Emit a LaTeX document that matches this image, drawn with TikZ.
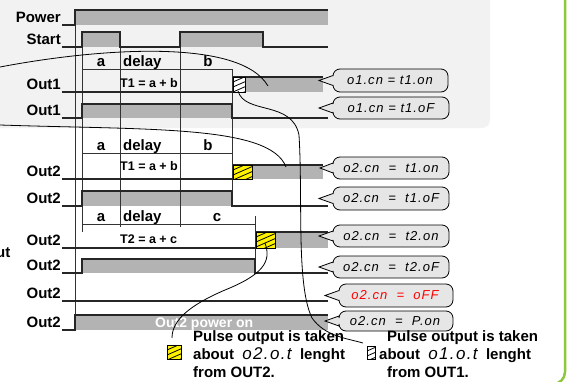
\documentclass[tikz,border=0pt]{standalone}
\usepackage{fontspec}
\setmainfont{Liberation Sans}
\newfontfamily\segfont[LetterSpace=8]{Liberation Sans}
\definecolor{bgpanel}{HTML}{F2F2F2}
\definecolor{sigfill}{HTML}{B3B3B3}
\definecolor{bubfill}{HTML}{E6E6E6}
\definecolor{hatchy}{HTML}{FFF200}
\definecolor{greenline}{HTML}{8DC63F}
\newcommand\hatchrect[5]{%
  \begin{scope}
    \clip (#1,#2) rectangle (#3,#4);
    \fill[#5] (#1,#2) rectangle (#3,#4);
    \foreach \k in {-2,...,6} {\draw[line width=0.8pt] (#1,{#2+\k*5}) -- ++(25,-11);}
  \end{scope}
  \draw[line width=0.9pt] (#1,#2) rectangle (#3,#4);}
\newcommand\bubbleshape[5]{%
  \draw[bubble] (#1,{(#4+#5)/2}) -- (#2,{(#4+#5)/2-5}) [rounded corners=7pt] -- (#2,#4) -- (#3,#4) -- (#3,#5) -- (#2,#5) [sharp corners] -- (#2,{(#4+#5)/2+5}) -- cycle;}
\begin{document}
\begin{tikzpicture}[x=1pt,y=-1pt,
  sig/.style={line width=1.1pt, draw=black!85},
  gridl/.style={line width=0.7pt, draw=black!80},
  wire/.style={line width=0.8pt, draw=black},
  lbl/.style={font=\fontsize{15}{17}\selectfont\bfseries, anchor=base east, inner sep=0},
  hdr/.style={font=\fontsize{15}{17}\selectfont\bfseries, anchor=base, inner sep=0},
  teq/.style={font=\fontsize{12.5}{14}\selectfont\bfseries, anchor=base west, inner sep=0},
  bubble/.style={draw=black, line width=0.8pt, fill=bubfill},
  btext/.style={font=\segfont\fontsize{13}{15}\selectfont\itshape, inner sep=0},
  note/.style={font=\fontsize{15}{17}\selectfont\bfseries, anchor=base west, inner sep=0}]
\useasboundingbox (0,0) rectangle (568,381);
% background panel and green frame
\fill[bgpanel, rounded corners=8pt] (-10,-10) rectangle (490,128);
\draw[greenline, line width=2.5pt, rounded corners=12pt] (565,-10) -- (565,384) -- (480,384);
% gray fills
\fill[sigfill] (75,10) rectangle (328,25);
\fill[sigfill] (82,32) rectangle (120,47);
\fill[sigfill] (180,32) rectangle (263,47);
\fill[sigfill] (245,77) rectangle (323,92);
\fill[sigfill] (82,104) rectangle (232,118);
\fill[sigfill] (252,165) rectangle (323,179);
\fill[sigfill] (82,191) rectangle (232,206);
\fill[sigfill] (275,232) rectangle (328,248);
\fill[sigfill] (82,259) rectangle (255,273);
\fill[sigfill] (75,315) rectangle (328,330);
% grid lines
\draw[gridl] (75,10) -- (75,330);
\draw[gridl] (82,32) -- (82,232);
\draw[gridl] (120,32) -- (120,227);
\draw[gridl] (180,32) -- (180,227);
\draw[gridl] (232,69) -- (232,206);
\draw[gridl] (255,216) -- (255,273);
\draw[gridl] (82,69) -- (232,69);
\draw[gridl] (82,153) -- (232,153);
\draw[gridl] (82,224) -- (255,224);
% signals
\draw[sig] (62,25) -- (75,25) -- (75,10) -- (328,10);
\draw[sig] (62,47) -- (82,47) -- (82,32) -- (120,32) -- (120,47) -- (180,47) -- (180,32) -- (263,32) -- (263,47) -- (328,47);
\draw[sig] (62,92) -- (233,92);
\draw[sig] (233,77) -- (323,77);
\draw[sig] (62,118) -- (82,118) -- (82,104) -- (232,104) -- (232,118) -- (328,118);
\draw[sig] (62,179) -- (233,179);
\draw[sig] (233,165) -- (323,165);
\draw[sig] (62,206) -- (82,206) -- (82,191) -- (232,191) -- (232,206) -- (328,206);
\draw[sig] (62,248) -- (256,248);
\draw[sig] (256,232) -- (328,232);
\draw[sig] (62,273) -- (82,273) -- (82,259) -- (255,259) -- (255,273) -- (328,273);
\draw[sig] (62,301) -- (328,301);
\draw[sig] (62,330) -- (75,330) -- (75,315) -- (328,315);
% hatched pulse boxes
\hatchrect{233}{77}{245}{92}{white}
\hatchrect{233}{165}{252}{179}{hatchy}
\hatchrect{256}{232}{275}{248}{hatchy}
\hatchrect{167}{345}{181}{359}{hatchy}
\hatchrect{367}{346}{375}{359}{white}
% labels
\node[lbl] (lpow) at (61,22) {Power};
\node[lbl] (lsta) at (61,44.5) {Start};
\node[lbl] (lo1a) at (61,89.5) {Out1};
\node[lbl] (lo1b) at (61,115.5) {Out1};
\node[lbl] (lo2a) at (61,176.5) {Out2};
\node[lbl] (lo2b) at (61,203.5) {Out2};
\node[lbl] (lo2c) at (61,245.5) {Out2};
\node[lbl] (lo2d) at (61,270.5) {Out2};
\node[lbl] (lo2e) at (61,298.5) {Out2};
\node[lbl] (lo2f) at (61,327.5) {Out2};
\node[lbl, anchor=base west] (lcut) at (-4,257) {ut};
% header rows
\node[hdr] (ha1) at (101,66.5) {a};
\node[hdr, anchor=base west] (hd1) at (123,66.5) {delay};
\node[hdr] (hb1) at (208,66.5) {b};
\node[hdr] (ha2) at (101,150.5) {a};
\node[hdr, anchor=base west] (hd2) at (123,150.5) {delay};
\node[hdr] (hb2) at (208,150.5) {b};
\node[hdr] (ha3) at (101,221.5) {a};
\node[hdr, anchor=base west] (hd3) at (123,221.5) {delay};
\node[hdr] (hc3) at (217,221.5) {c};
\node[teq] (t1a) at (120,87) {T1 = a + b};
\node[teq] (t1b) at (120,170) {T1 = a + b};
\node[teq] (t2) at (120,243) {T2 = a + c};
\node[note, text=white, font=\fontsize{14}{16}\selectfont\bfseries] (pwr) at (155,327) {Out2 power on};
% callouts
\bubbleshape{319}{333}{448}{69}{92}
\node[btext] (c1) at (390,80.5) {o1.cn = t1.on};
\bubbleshape{319}{333}{449}{97}{119}
\node[btext] (c2) at (391,108) {o1.cn = t1.oF};
\bubbleshape{320}{333}{449}{157}{179}
\node[btext] (c3) at (391,168) {o2.cn \ = \ t1.on};
\bubbleshape{319}{333}{449}{187}{210}
\node[btext] (c4) at (391,198.5) {o2.cn \ = \ t1.oF};
\bubbleshape{319}{333}{449}{225}{247}
\node[btext] (c5) at (391,236) {o2.cn \ = \ t2.on};
\bubbleshape{319}{333}{449}{256}{278}
\node[btext] (c6) at (391,267) {o2.cn \ = \ t2.oF};
\bubbleshape{325}{339}{453}{284}{307}
\node[btext, text=red] (c7) at (395,295.5) {o2.cn \ = \ oFF};
\bubbleshape{325}{339}{453}{311}{331}
\node[btext] (c8) at (395,321) {o2.cn \ = \ P.on};
% connector curves
\coordinate (a0) at (0,67);
\coordinate (a1) at (268,86);
\coordinate (b0) at (0,125);
\coordinate (b1) at (286,167);
\coordinate (p1) at (238,91);
\coordinate (p1m) at (299,135);
\coordinate (p1e) at (363,343);
\coordinate (p2) at (265,243);
\coordinate (p2m) at (225,290);
\coordinate (p2e) at (172,338);
\draw[wire] (a0) .. controls (100,48) and (240,38) .. (a1);
\draw[wire] (b0) .. controls (150,130) and (270,125) .. (b1);
\draw[wire] (p1) .. controls (245,115) and (292,100) .. (p1m) .. controls (303,200) and (296,285) .. (312,318) .. controls (325,336) and (345,338) .. (p1e);
\draw[wire] (p2) .. controls (272,262) and (262,275) .. (p2m) .. controls (190,305) and (172,320) .. (p2e);
% notes
\node[note] (n1a) at (193,341) {Pulse output is taken};
\node[note] (n1b) at (193,359) {about \ {\segfont\fontsize{17}{17}\selectfont\mdseries\itshape o2.o.t} \ lenght};
\node[note] (n1c) at (193,377) {from OUT2.};
\node[note] (n2a) at (387,341) {Pulse output is taken};
\node[note] (n2b) at (379,359) {about \ {\segfont\fontsize{17}{17}\selectfont\mdseries\itshape o1.o.t} \ lenght};
\node[note] (n2c) at (387,377) {from OUT1.};
\end{tikzpicture}
\end{document}
